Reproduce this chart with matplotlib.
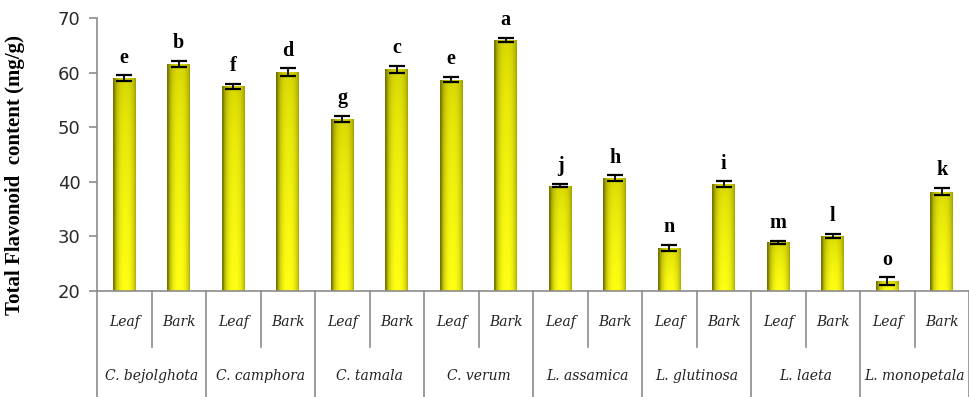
import numpy as np
import matplotlib
matplotlib.use("Agg")
import matplotlib.pyplot as plt
from matplotlib.colors import to_rgb

# Total flavonoid content per species and plant part
species = ["C. bejolghota", "C. camphora", "C. tamala", "C. verum",
           "L. assamica", "L. glutinosa", "L. laeta", "L. monopetala"]
parts = ["Leaf", "Bark"]
leaf_vals = [59.0, 57.5, 51.5, 58.7, 39.3, 27.9, 28.9, 21.8]
bark_vals = [61.6, 60.1, 60.6, 66.0, 40.7, 39.6, 30.1, 38.2]
leaf_err = [0.5, 0.5, 0.6, 0.5, 0.3, 0.5, 0.3, 0.7]
bark_err = [0.5, 0.7, 0.6, 0.4, 0.5, 0.5, 0.4, 0.7]
leaf_letters = ["e", "f", "g", "e", "j", "n", "m", "o"]
bark_letters = ["b", "d", "c", "a", "h", "i", "l", "k"]

values = [v for pair in zip(leaf_vals, bark_vals) for v in pair]
errors = [e for pair in zip(leaf_err, bark_err) for e in pair]
letters = [s for pair in zip(leaf_letters, bark_letters) for s in pair]

ymin, ymax = 20, 70
n = len(values)
x = np.arange(n)
bar_w = 0.42
line_c = "#8c8c8c"


def cylinder_texture(h=64, w=48):
    # shading: dark olive rim, bright yellow core, slightly darker towards the top
    u = np.linspace(-1, 1, w)
    across = np.clip(1 - np.abs(u - 0.1) ** 2.4, 0, 1)
    down = np.linspace(0, 1, h)[:, None]  # 0 at top, 1 at bottom
    dark = np.array(to_rgb("#767600"))
    top = np.array(to_rgb("#d2d200"))
    bright = np.array(to_rgb("#ffff14"))
    core = top + (bright - top) * down[..., None] ** 0.5
    img = dark + (core - dark) * across[None, :, None] ** 0.6
    return np.clip(img * np.ones((h, 1, 1)), 0, 1)


tex = cylinder_texture()

fig = plt.figure(figsize=(9.69, 3.97), dpi=100)
ax = fig.add_axes([97 / 969, 1 - 291 / 397, 1 - 97 / 969, (291 - 18) / 397])

bars = ax.bar(x, np.array(values) - ymin, bottom=ymin, width=bar_w,
              color="none", edgecolor="none", zorder=2)
for rect in bars:
    x0, y0 = rect.get_x(), rect.get_y()
    im = ax.imshow(tex, extent=[x0, x0 + rect.get_width(), y0, y0 + rect.get_height()],
                   aspect="auto", zorder=2, interpolation="bilinear")
    im.set_clip_path(rect)

ax.errorbar(x, values, yerr=errors, fmt="none", ecolor="black",
            elinewidth=1.3, capsize=5.5, capthick=1.6, zorder=3)

for xi, v, e, s in zip(x, values, errors, letters):
    ax.text(xi, v + e + 1.4, s, ha="center", va="bottom", fontsize=14.5,
            fontweight="bold", family="Liberation Serif", zorder=4)

ax.set_xlim(-0.5, n - 0.5)
ax.set_ylim(ymin, ymax)
ax.set_yticks(np.arange(20, 71, 10))
ax.set_xticks([])
ax.tick_params(axis="y", length=6, width=1.2, color=line_c, labelsize=13, pad=6)
for lab in ax.get_yticklabels():
    lab.set_family("DejaVu Sans")
    lab.set_color("#2a2a2a")
for side in ["top", "right"]:
    ax.spines[side].set_visible(False)
for side in ["left", "bottom"]:
    ax.spines[side].set_color(line_c)
    ax.spines[side].set_linewidth(1.2)

ax.set_ylabel("Total Flavonoid  content (mg/g)", fontsize=15, fontweight="bold",
              family="Liberation Serif")
ax.yaxis.set_label_coords(-0.082, 0.425)

# two-level category table below the axis
trans = ax.get_xaxis_transform()
for i in range(n):
    ax.text(i, -0.115, parts[i % 2], transform=trans, ha="center", va="center",
            fontsize=10, style="italic", family="DejaVu Serif", color="#222222")
for g, name in enumerate(species):
    ax.text(2 * g + 0.5, -0.31, name, transform=trans, ha="center", va="center",
            fontsize=10, style="italic", family="DejaVu Serif", color="#222222")
for b in np.arange(0.5, n - 0.5, 2):
    ax.plot([b, b], [0, -0.205], transform=trans, color=line_c, lw=1.2, clip_on=False)
for b in np.arange(-0.5, n, 2):
    ax.plot([b, b], [0, -0.4], transform=trans, color=line_c, lw=1.2, clip_on=False)

fig.savefig("out.png", dpi=100)
